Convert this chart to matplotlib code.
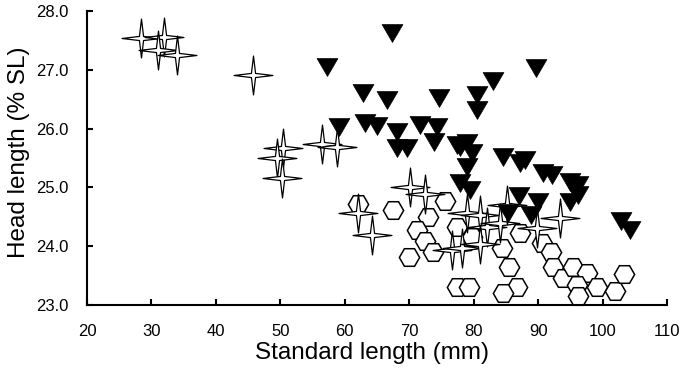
import numpy as np
import matplotlib
matplotlib.use("Agg")
import matplotlib.pyplot as plt
from matplotlib.path import Path

plt.rcParams['font.family'] = ['Liberation Sans', 'DejaVu Sans']

# Series 1: filled down-triangles
tri_x = [67.3, 57.2, 89.7, 83.0, 62.8, 66.6, 74.6, 80.5, 80.5, 59.1, 63.1, 65.0, 68.1,
         71.7, 74.3, 73.8, 68.1, 69.7, 77.4, 79.0, 77.9, 79.7, 79.0, 77.9, 79.4, 84.6,
         88.0, 87.2, 90.8, 92.2, 95.0, 96.2, 96.2, 95.0, 87.0, 90.0, 85.3, 88.9, 102.9, 104.3]
tri_y = [27.63, 27.05, 27.03, 26.81, 26.61, 26.49, 26.52, 26.57, 26.32, 26.03, 26.10, 26.04, 25.94,
         26.06, 26.03, 25.77, 25.67, 25.67, 25.72, 25.76, 25.69, 25.59, 25.35, 25.07, 24.96, 25.52,
         25.47, 25.42, 25.24, 25.21, 25.09, 25.04, 24.87, 24.75, 24.85, 24.75, 24.56, 24.53, 24.43, 24.28]

# Series 2: open four-pointed stars
star_x = [28.4, 31.9, 31.0, 34.0, 45.8, 50.4, 49.5, 50.3, 56.5, 58.8, 62.1, 64.2, 70.1, 72.5,
          79.0, 81.0, 82.1, 84.1, 85.2, 89.8, 93.4, 76.6, 78.2, 81.0]
star_y = [27.54, 27.56, 27.34, 27.25, 26.91, 25.67, 25.50, 25.16, 25.74, 25.69, 24.56, 24.19, 25.01, 24.89,
          24.56, 24.53, 24.33, 24.39, 24.70, 24.31, 24.48, 23.94, 23.97, 24.04]

# Series 3: open hexagons
hex_x = [62.1, 67.5, 75.6, 72.9, 71.2, 72.5, 73.7, 70.0, 77.4, 79.7, 84.4, 87.2, 85.5, 86.7,
         84.6, 77.4, 79.3, 90.6, 92.0, 92.3, 93.9, 95.4, 97.6, 96.0, 96.2, 99.1, 101.9, 103.3]
hex_y = [24.72, 24.62, 24.77, 24.50, 24.28, 24.09, 23.90, 23.82, 24.33, 24.16, 23.97, 24.22, 23.65, 23.31,
         23.20, 23.31, 23.31, 24.05, 23.90, 23.65, 23.46, 23.65, 23.54, 23.34, 23.15, 23.31, 23.24, 23.53]

x_ticks = [20, 30, 40, 50, 60, 70, 80, 90, 100, 110]
y_ticks = [23.0, 24.0, 25.0, 26.0, 27.0, 28.0]

# marker shapes
inner = 0.15
star_verts = []
for k in range(8):
    ang = np.pi / 2 * (k // 2) + (np.pi / 4 if k % 2 else 0)
    r = 1.0 if k % 2 == 0 else inner
    star_verts.append((r * np.cos(ang), r * np.sin(ang)))
star_verts.append(star_verts[0])
star_path = Path(star_verts, [Path.MOVETO] + [Path.LINETO] * 7 + [Path.CLOSEPOLY])

h = 18 / 21
tri_path = Path([(-1, h), (1, h), (0, -h), (-1, h)],
                [Path.MOVETO, Path.LINETO, Path.LINETO, Path.CLOSEPOLY])

fig = plt.figure(figsize=(6.85, 3.69), dpi=100)
ax = fig.add_axes([87 / 685, 1 - 305 / 369, 580 / 685, 294 / 369])

ax.plot(hex_x, hex_y, linestyle='none', marker='H', markersize=14.6,
        markerfacecolor='white', markeredgecolor='black', markeredgewidth=1.1, zorder=2)
ax.plot(star_x, star_y, linestyle='none', marker=star_path, markersize=28,
        markerfacecolor='white', markeredgecolor='black', markeredgewidth=0.9, zorder=3)
ax.plot(tri_x, tri_y, linestyle='none', marker=tri_path, markersize=15,
        markerfacecolor='black', markeredgecolor='black', markeredgewidth=0.5, zorder=4)

ax.set_xlim(20, 110)
ax.set_ylim(23.0, 28.0)
ax.set_xticks(x_ticks)
ax.set_yticks(y_ticks)
ax.set_xticklabels([str(v) for v in x_ticks])
ax.set_yticklabels([f"{v:.1f}" for v in y_ticks])

for s in ['top', 'right']:
    ax.spines[s].set_visible(False)
for s in ['left', 'bottom']:
    ax.spines[s].set_linewidth(1.5)
ax.tick_params(direction='in', length=4, width=1.5, labelsize=12, pad=13.5)

ax.set_xlabel('Standard length (mm)', fontsize=17.5, labelpad=2)
ax.set_ylabel('Head length (% SL)', fontsize=17.5, labelpad=4)
ax.xaxis.label.set_x(0.491)
ax.yaxis.label.set_y(0.52)

for line in ax.lines:
    line.set_clip_on(False)

fig.savefig('out.png', dpi=100)
